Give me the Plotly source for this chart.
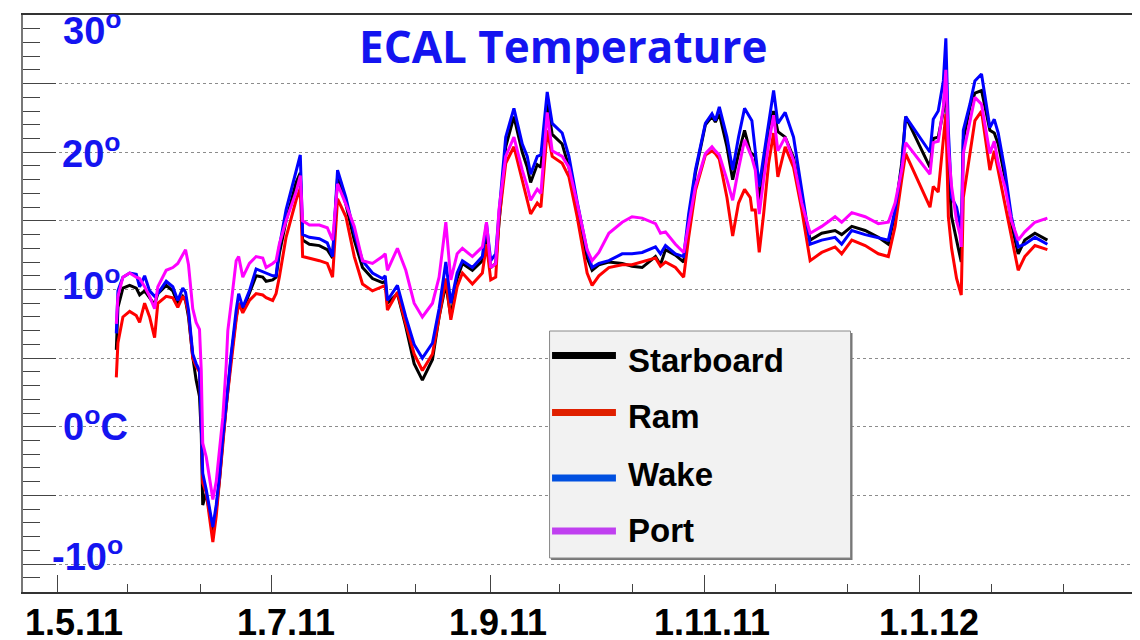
import plotly.graph_objects as go

# ---------------- data ----------------
dates = [
    "2011-05-17 20:00", "2011-05-18 07:00", "2011-05-19 17:00", "2011-05-21 15:00", "2011-05-23 12:00",
    "2011-05-24 11:00", "2011-05-25 21:00", "2011-05-27 07:00", "2011-05-28 17:00", "2011-05-29 15:00",
    "2011-06-01 00:00", "2011-06-02 21:00", "2011-06-04 07:00", "2011-06-05 17:00", "2011-06-06 12:00",
    "2011-06-07 08:00", "2011-06-08 13:00", "2011-06-09 12:00", "2011-06-10 11:00", "2011-06-10 23:00",
    "2011-06-11 09:00", "2011-06-12 09:00", "2011-06-13 07:00", "2011-06-14 06:00", "2011-06-15 05:00",
    "2011-06-16 03:00", "2011-06-17 02:00", "2011-06-18 01:00", "2011-06-18 12:00", "2011-06-19 11:00",
    "2011-06-20 21:00", "2011-06-21 14:00", "2011-06-22 18:00", "2011-06-24 15:00", "2011-06-26 13:00",
    "2011-06-28 10:00", "2011-06-29 09:00", "2011-07-01 06:00", "2011-07-02 05:00", "2011-07-03 03:00",
    "2011-07-05 01:00", "2011-07-07 21:00", "2011-07-09 02:00", "2011-07-09 18:00", "2011-07-11 16:00",
    "2011-07-14 12:00", "2011-07-16 18:00", "2011-07-18 06:00", "2011-07-19 16:00", "2011-07-22 01:00",
    "2011-07-24 10:00", "2011-07-26 18:00", "2011-07-29 14:00", "2011-08-01 10:00", "2011-08-02 05:00",
    "2011-08-02 20:00", "2011-08-05 16:00", "2011-08-08 01:00", "2011-08-10 10:00", "2011-08-12 18:00",
    "2011-08-15 15:00", "2011-08-17 12:00", "2011-08-19 10:00", "2011-08-20 20:00", "2011-08-22 15:00",
    "2011-08-24 03:00", "2011-08-26 23:00", "2011-08-29 19:00", "2011-08-30 23:00", "2011-09-01 04:00",
    "2011-09-02 14:00", "2011-09-03 12:00", "2011-09-05 10:00", "2011-09-07 18:00", "2011-09-10 03:00",
    "2011-09-11 13:00", "2011-09-12 12:00", "2011-09-14 09:00", "2011-09-15 10:00", "2011-09-17 05:00",
    "2011-09-18 15:00", "2011-09-21 11:00", "2011-09-23 09:00", "2011-09-25 17:00", "2011-09-28 13:00",
    "2011-09-29 23:00", "2011-10-01 21:00", "2011-10-04 17:00", "2011-10-08 12:00", "2011-10-11 07:00",
    "2011-10-14 04:00", "2011-10-17 23:00", "2011-10-19 09:00", "2011-10-20 19:00", "2011-10-23 15:00",
    "2011-10-25 23:00", "2011-10-27 09:00", "2011-10-29 07:00", "2011-11-01 03:00", "2011-11-03 00:00",
    "2011-11-03 23:00", "2011-11-05 02:00", "2011-11-07 06:00", "2011-11-08 21:00", "2011-11-10 13:00",
    "2011-11-12 06:00", "2011-11-13 21:00", "2011-11-14 08:00", "2011-11-15 07:00", "2011-11-16 10:00",
    "2011-11-17 16:00", "2011-11-19 02:00", "2011-11-20 12:00", "2011-11-21 17:00", "2011-11-23 19:00",
    "2011-11-26 04:00", "2011-11-28 12:00", "2011-11-30 21:00", "2011-12-04 04:00", "2011-12-07 23:00",
    "2011-12-09 20:00", "2011-12-12 17:00", "2011-12-16 12:00", "2011-12-20 06:00", "2011-12-23 02:00",
    "2011-12-25 00:00", "2011-12-26 21:00", "2011-12-28 00:00", "2012-01-03 22:00", "2012-01-04 20:00",
    "2012-01-06 06:00", "2012-01-07 17:00", "2012-01-08 10:00", "2012-01-09 03:00", "2012-01-10 01:00",
    "2012-01-11 11:00", "2012-01-12 10:00", "2012-01-12 19:00", "2012-01-13 09:00", "2012-01-15 06:00",
    "2012-01-16 16:00", "2012-01-18 13:00", "2012-01-19 23:00", "2012-01-20 22:00", "2012-01-22 04:00",
    "2012-01-23 07:00", "2012-01-25 04:00", "2012-01-27 01:00", "2012-01-28 23:00", "2012-01-30 20:00",
    "2012-02-02 17:00", "2012-02-06 06:00",
]

starboard = [
    5.6, 8.7, 10.1, 10.3, 10.1, 9.6, 9.9, 9.4, 8.9, 9.7,
    10.3, 9.9, 9.0, 9.5, 9.2, 8.0, 5.1, 3.4, 2.2, -0.5,
    -5.7, -4.8, -6.3, -7.7, -6.0, -3.9, -1.0, 1.7, 2.8, 5.1,
    8.0, 9.0, 8.5, 9.7, 11.0, 10.9, 10.6, 10.7, 10.9, 12.6,
    15.0, 17.8, 18.5, 13.6, 13.3, 13.2, 12.9, 12.3, 18.2, 16.2,
    13.6, 11.6, 10.8, 10.5, 10.6, 9.0, 9.7, 7.3, 4.6, 3.4,
    4.9, 8.0, 10.4, 8.0, 10.8, 11.9, 11.4, 12.1, 14.1, 11.6,
    11.9, 14.8, 20.4, 22.6, 20.0, 18.9, 17.8, 19.1, 18.9, 23.6,
    21.3, 20.6, 18.9, 15.8, 12.3, 11.4, 11.8, 12.0, 11.9, 11.7,
    11.6, 12.4, 11.8, 12.9, 12.5, 12.0, 15.0, 18.5, 22.0, 22.6,
    22.2, 22.8, 20.4, 18.0, 19.9, 21.6, 20.0, 19.9, 19.7, 16.3,
    19.0, 21.8, 23.0, 21.5, 21.1, 19.6, 16.5, 13.6, 14.1, 14.3,
    14.0, 14.6, 14.3, 13.8, 13.3, 15.6, 19.2, 22.6, 18.9, 21.0,
    21.1, 23.0, 25.7, 18.7, 15.3, 13.6, 12.4, 12.0, 20.9, 23.3,
    24.3, 24.5, 22.8, 21.6, 21.4, 20.6, 18.2, 14.8, 12.6, 13.6,
    14.1, 13.6,
]

ram = [
    3.6, 6.1, 8.0, 8.4, 8.1, 7.6, 9.0, 8.0, 6.5, 9.0,
    9.5, 9.4, 8.7, 9.5, 9.2, 8.3, 5.0, 4.4, 4.0, 0.5,
    -4.1, -4.8, -6.6, -8.4, -6.5, -4.2, -1.3, 1.5, 2.6, 4.9,
    7.8, 9.0, 8.3, 9.2, 9.7, 9.6, 9.4, 9.2, 9.7, 10.9,
    13.8, 16.5, 17.4, 12.4, 12.3, 12.1, 11.9, 10.9, 16.6, 15.3,
    12.4, 10.4, 9.9, 10.2, 10.3, 8.5, 9.8, 7.5, 5.3, 4.1,
    5.3, 8.0, 10.8, 7.8, 10.2, 11.2, 10.4, 11.2, 13.3, 10.7,
    10.9, 15.0, 19.2, 20.4, 18.0, 16.5, 15.5, 16.3, 16.0, 21.6,
    19.7, 19.2, 18.2, 15.3, 11.2, 10.3, 11.0, 11.6, 11.8, 11.8,
    12.0, 12.3, 11.7, 12.0, 11.6, 10.9, 13.8, 17.2, 19.8, 20.1,
    19.9, 19.5, 16.7, 13.9, 16.3, 17.3, 16.7, 15.8, 15.8, 12.7,
    15.5, 19.2, 21.4, 18.2, 20.4, 18.9, 15.8, 12.1, 12.7, 13.1,
    12.6, 13.6, 13.2, 12.6, 12.4, 14.6, 18.0, 19.9, 16.0, 17.5,
    17.1, 20.9, 22.8, 15.3, 13.0, 10.8, 9.8, 9.6, 16.7, 19.9,
    22.3, 23.0, 20.4, 18.7, 20.1, 18.7, 16.3, 13.8, 11.4, 12.4,
    13.2, 12.9,
]

wake = [
    6.8, 9.9, 10.9, 11.2, 11.1, 10.2, 11.0, 9.9, 9.5, 9.7,
    10.6, 10.2, 9.2, 10.1, 9.8, 8.5, 5.3, 4.6, 4.1, 0.5,
    -3.4, -4.6, -6.0, -7.3, -5.7, -3.6, -0.8, 1.9, 3.0, 5.3,
    8.5, 9.7, 8.7, 9.9, 11.5, 11.3, 11.2, 11.0, 11.0, 13.1,
    15.8, 18.5, 19.8, 14.0, 13.8, 13.7, 13.4, 12.4, 18.7, 16.7,
    14.1, 12.1, 11.2, 10.8, 11.0, 9.2, 10.3, 8.0, 6.0, 5.0,
    6.1, 8.6, 12.0, 9.0, 11.2, 12.1, 11.6, 12.4, 14.8, 12.1,
    12.6, 15.5, 21.1, 23.2, 20.6, 19.7, 18.4, 19.7, 19.8, 24.4,
    22.1, 21.4, 19.7, 16.4, 12.8, 11.6, 11.9, 12.1, 12.6, 12.6,
    12.7, 13.1, 12.6, 13.2, 12.6, 12.4, 15.5, 18.7, 22.1, 22.8,
    22.3, 23.3, 21.1, 18.7, 21.1, 23.2, 22.5, 22.3, 20.1, 17.5,
    19.7, 22.1, 24.5, 22.1, 22.9, 21.1, 17.2, 13.3, 13.6, 13.8,
    13.3, 14.3, 14.0, 13.8, 13.6, 15.8, 18.9, 22.6, 20.0, 22.4,
    23.0, 25.2, 28.3, 21.6, 16.7, 16.0, 14.8, 14.0, 21.6, 23.5,
    25.2, 25.7, 23.5, 21.8, 22.4, 21.4, 18.7, 15.3, 13.1, 13.3,
    13.8, 13.3,
]

port = [
    7.5, 9.5, 10.9, 11.2, 10.9, 10.8, 10.2, 9.5, 8.6, 10.2,
    11.4, 11.6, 11.9, 12.6, 12.9, 11.8, 8.6, 7.6, 7.1, 4.1,
    -1.2, -2.2, -3.8, -5.3, -4.0, -1.5, 0.7, 4.5, 7.0, 9.0,
    12.1, 12.4, 10.9, 11.9, 12.4, 12.3, 11.6, 11.9, 12.1, 13.3,
    15.0, 17.1, 18.3, 15.0, 14.7, 14.7, 14.5, 13.6, 17.7, 16.2,
    14.6, 12.1, 11.9, 12.4, 12.6, 11.4, 13.0, 11.4, 9.0, 8.0,
    9.0, 10.9, 14.9, 10.7, 12.6, 13.0, 12.4, 13.1, 14.9, 11.6,
    11.9, 15.8, 19.7, 21.1, 18.7, 17.5, 16.5, 17.3, 17.0, 22.9,
    20.1, 19.7, 18.9, 16.3, 12.9, 12.1, 12.7, 14.1, 14.9, 15.3,
    15.2, 14.8, 14.1, 14.2, 13.3, 12.7, 14.8, 17.5, 19.9, 20.4,
    20.1, 19.8, 18.0, 16.5, 18.8, 20.9, 19.9, 19.6, 18.7, 15.5,
    18.0, 20.6, 22.7, 20.1, 21.1, 19.4, 16.3, 14.1, 14.6, 15.3,
    14.9, 15.6, 15.3, 14.8, 14.9, 16.3, 18.7, 20.7, 18.4, 20.7,
    20.8, 23.3, 26.0, 20.4, 17.5, 15.0, 14.0, 13.1, 19.9, 22.1,
    24.0, 23.5, 21.3, 19.9, 20.8, 19.2, 17.5, 15.0, 13.6, 14.2,
    14.9, 15.2,
]

series_names = ["Starboard", "Ram", "Wake", "Port"]
series_values = [starboard, ram, wake, port]
line_colors = ["#000000", "#ff0000", "#0000ff", "#ff00ff"]
legend_colors = ["#000000", "#e02000", "#0050e0", "#c040f0"]

major_ticks = ["2011-05-01", "2011-07-01", "2011-09-01", "2011-11-01", "2012-01-01", "2012-03-02 10:00"]
major_labels = ["1.5.11", "1.7.11", "1.9.11", "1.11.11", "1.1.12"]
minor_ticks = ["2011-05-21 02:00", "2011-06-10 19:00", "2011-07-22 10:00", "2011-08-10 22:00",
               "2011-09-20 19:00", "2011-10-11 07:00", "2011-11-21 02:00", "2011-12-11 14:00",
               "2012-01-21 12:00", "2012-02-10 19:00"]
x_range = ["2011-04-21 08:00", "2012-03-02 10:00"]
y_range = [-12.04, 30]

y_label_texts = ["30<sup>o</sup>", "20<sup>o</sup>", "10<sup>o</sup>", "0<sup>o</sup>C", "-10<sup>o</sup>"]
title_text = "ECAL Temperature"

# ---------------- layout geometry (screen pixels) ----------------
# the page body has an 8 px margin, so the figure is drawn 8 px smaller and
# all screen positions are shifted by that offset
OFF = 8
W, H = 1140 - OFF, 640 - OFF
L, R, T, B = 23 - OFF, 1138 - OFF, 15 - OFF, 592 - OFF


def pxx(x):
    return (x - OFF - L) / (R - L)


def pxy(y):
    return (B - (y - OFF)) / (B - T)


FONT = "Liberation Sans, Arial, Helvetica, sans-serif"
TITLE_FONT = "Open Sans, Liberation Sans, Arial, sans-serif"
BLUE = "#1414f0"

fig = go.Figure()
for name, vals, col in zip(series_names, series_values, line_colors):
    fig.add_trace(go.Scatter(x=dates, y=vals, mode="lines", name=name,
                             line=dict(color=col, width=3), showlegend=False))

fig.update_layout(
    width=W, height=H,
    margin=dict(l=L, r=W - R, t=T, b=H - B, pad=0),
    paper_bgcolor="white", plot_bgcolor="white",
    font=dict(family=FONT),
    xaxis=dict(type="date", range=x_range, showgrid=False, zeroline=False,
               tickmode="array", tickvals=major_ticks, showticklabels=False,
               ticks="inside", ticklen=17, tickwidth=1, tickcolor="#444",
               minor=dict(tickmode="array", tickvals=minor_ticks, ticks="inside",
                          ticklen=8, tickwidth=1, tickcolor="#444", showgrid=False),
               showline=True, linecolor="#333", linewidth=1.5, mirror=True),
    yaxis=dict(range=y_range, showgrid=True, gridcolor="#8c8c8c", griddash="dot", gridwidth=1,
               zeroline=False, tickmode="array", tickvals=[-10, -5, 0, 5, 10, 15, 20, 25, 30],
               showticklabels=False, ticks="inside", ticklen=33, tickwidth=1, tickcolor="#444",
               minor=dict(dtick=1, tick0=0, ticks="inside", ticklen=17, tickwidth=1,
                          tickcolor="#444", showgrid=False),
               showline=True, linecolor="#777", linewidth=2, mirror=True),
)

ann = []
# title
ann.append(dict(text="<b>" + title_text + "</b>", x=pxx(564), y=pxy(46), xref="paper", yref="paper",
                xanchor="center", yanchor="middle", showarrow=False,
                font=dict(size=44, color=BLUE, family=TITLE_FONT)))
# y labels (blue, drawn inside the frame)
y_label_px = [(61, 28), (60, 151), (60, 283), (61, 424), (50, 554)]
for txt, (lx, ly) in zip(y_label_texts, y_label_px):
    ann.append(dict(text="<b>" + txt + "</b>", x=pxx(lx), y=pxy(ly), xref="paper", yref="paper",
                    xanchor="left", yanchor="middle", showarrow=False,
                    font=dict(size=38, color=BLUE, family=FONT)))
# x labels
x_label_shift = [17, 14, 8, 7, 9]
for d, txt, sh in zip(major_ticks, major_labels, x_label_shift):
    ann.append(dict(text="<b>" + txt + "</b>", x=d, y=pxy(622), xref="x", yref="paper",
                    xanchor="center", yanchor="middle", xshift=sh, showarrow=False,
                    font=dict(size=36, color="black", family=FONT)))

# legend box
shapes = []
shapes.append(dict(type="rect", xref="paper", yref="paper",
                   x0=pxx(552), x1=pxx(854), y0=pxy(560), y1=pxy(333),
                   fillcolor="#777", line=dict(width=0)))
shapes.append(dict(type="rect", xref="paper", yref="paper",
                   x0=pxx(550.5), x1=pxx(852), y0=pxy(558), y1=pxy(331),
                   fillcolor="#f2f2f2", line=dict(color="#888", width=1)))
leg_line_y = [355.5, 412.5, 478, 531]
leg_text_y = [360, 416.5, 474.5, 530]
for name, col, ly, ty in zip(series_names, legend_colors, leg_line_y, leg_text_y):
    shapes.append(dict(type="line", xref="paper", yref="paper",
                       x0=pxx(553), x1=pxx(617), y0=pxy(ly), y1=pxy(ly),
                       line=dict(color=col, width=7)))
    ann.append(dict(text="<b>" + name + "</b>", x=pxx(627), y=pxy(ty), xref="paper", yref="paper",
                    xanchor="left", yanchor="middle", showarrow=False,
                    font=dict(size=33, color="black", family=FONT)))

fig.update_layout(annotations=ann, shapes=shapes)
fig.write_html("out.html")
